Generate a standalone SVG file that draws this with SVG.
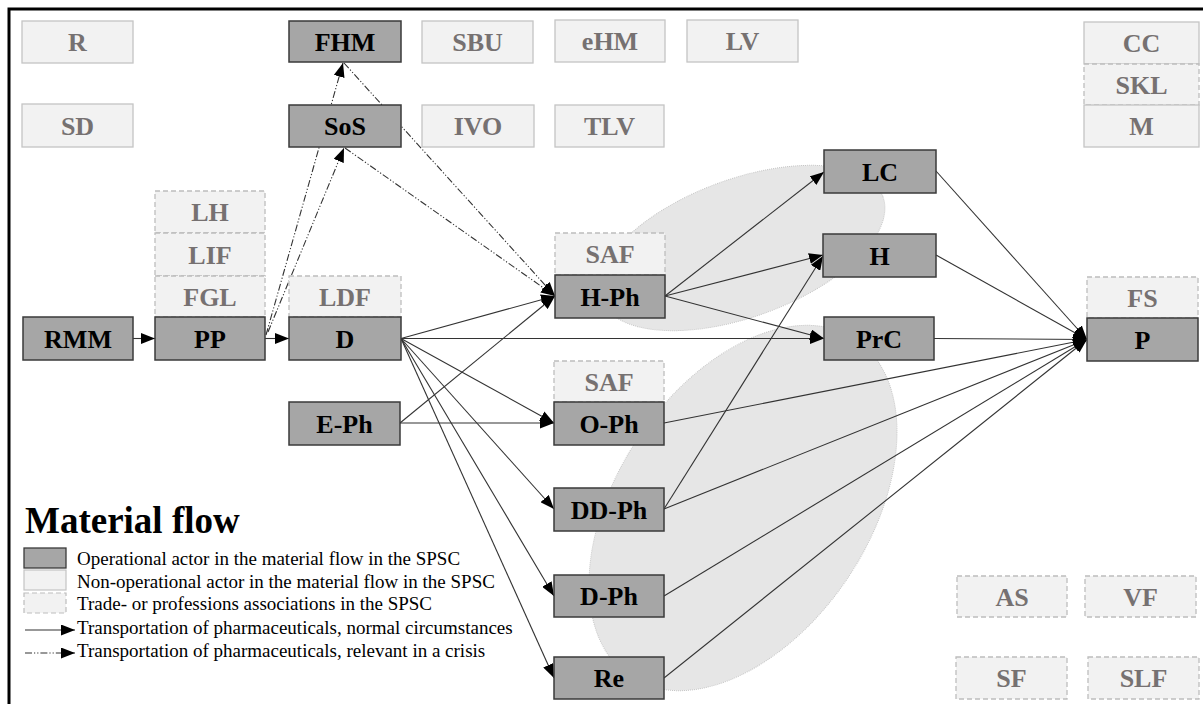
<svg xmlns="http://www.w3.org/2000/svg" width="1203" height="704" viewBox="0 0 1203 704">
  <defs>
    <marker id="arrow" markerUnits="userSpaceOnUse" markerWidth="14" markerHeight="11" refX="14" refY="5.5" orient="auto">
      <path d="M0,0 L14,5.5 L0,11 z" fill="#000"/>
    </marker>
    <style>
      .op rect { fill: #a6a6a6; stroke: #3a3a3a; stroke-width: 1.5; }
      .op text { fill: #000; }
      .nop rect { fill: #f2f2f2; stroke: #c4c4c4; stroke-width: 1.3; }
      .assoc rect { fill: #f2f2f2; stroke: #bdbdbd; stroke-width: 1.3; stroke-dasharray: 5 3; }
      .nop text, .assoc text { fill: #767171; }
      .flow line { stroke: #333; stroke-width: 1.1; fill: none; marker-end: url(#arrow); }
      .flow line.crisis { stroke-dasharray: 7 2 1.2 2 1.2 2; }
      .zone { fill: #e6e6e6; stroke: #c6c6c6; stroke-width: 1; stroke-dasharray: 1 1; }
      .legend text { font-family: "Liberation Serif", "Times New Roman", serif; font-size: 19px; fill: #000; }
    </style>
  </defs>

  <rect width="1203" height="704" fill="#fff"/>
  <!-- frame -->
  <rect x="9" y="9" width="1300" height="800" fill="none" stroke="#000" stroke-width="3"/>

  <!-- grouping zones -->
  <ellipse class="zone" cx="742" cy="248" rx="150" ry="69" transform="rotate(-20 742 248)"/>
  <ellipse class="zone" cx="743" cy="508" rx="203" ry="126" transform="rotate(-56.2 743 508)"/>

  <!-- connectors -->
  <g id="connectors" class="flow">
    <line x1="133" y1="338.5" x2="155" y2="338.5"/>
    <line x1="265" y1="338.5" x2="289" y2="338.5"/>
    <line class="crisis" x1="266" y1="335" x2="343" y2="63"/>
    <line class="crisis" x1="268" y1="332" x2="344" y2="148"/>
    <line class="crisis" x1="344" y1="63" x2="555" y2="296"/>
    <line class="crisis" x1="345" y1="148" x2="555" y2="296"/>
    <line x1="401" y1="338.5" x2="555" y2="296"/>
    <line x1="401" y1="338.5" x2="824" y2="338.5"/>
    <line x1="401" y1="338.5" x2="554" y2="423"/>
    <line x1="401" y1="338.5" x2="554" y2="509"/>
    <line x1="401" y1="338.5" x2="554" y2="596"/>
    <line x1="401" y1="338.5" x2="554" y2="678"/>
    <line x1="400" y1="423" x2="555" y2="296"/>
    <line x1="400" y1="423" x2="554" y2="423"/>
    <line x1="665" y1="296" x2="824" y2="172"/>
    <line x1="665" y1="296" x2="823" y2="255"/>
    <line x1="665" y1="296" x2="824" y2="338.5"/>
    <line x1="664" y1="509" x2="823" y2="256"/>
    <line x1="936" y1="171" x2="1087" y2="339.5"/>
    <line x1="936" y1="255" x2="1087" y2="339.5"/>
    <line x1="934" y1="338.5" x2="1087" y2="339.5"/>
    <line x1="664" y1="423" x2="1087" y2="339.5"/>
    <line x1="664" y1="509" x2="1087" y2="339.5"/>
    <line x1="664" y1="596" x2="1087" y2="339.5"/>
    <line x1="664" y1="678" x2="1087" y2="339.5"/>
  </g>

  <!-- all node labels share one text style -->
  <g id="nodes" font-family="Liberation Serif, Times New Roman, serif" font-weight="bold" font-size="26" text-anchor="middle">

  <!-- non-operational actors -->
  <g id="R" class="nop"><rect x="22" y="21" width="111" height="42"/><text x="77.5" y="51">R</text></g>
  <g id="SD" class="nop"><rect x="22" y="104" width="111" height="43"/><text x="77.5" y="134.5">SD</text></g>
  <g id="SBU" class="nop"><rect x="422" y="21" width="111" height="42"/><text x="477.5" y="51">SBU</text></g>
  <g id="eHM" class="nop"><rect x="555" y="20" width="110" height="42"/><text x="610" y="50">eHM</text></g>
  <g id="LV" class="nop"><rect x="687" y="20" width="111" height="42"/><text x="742.5" y="50">LV</text></g>
  <g id="IVO" class="nop"><rect x="422" y="105" width="112" height="42"/><text x="478" y="135">IVO</text></g>
  <g id="TLV" class="nop"><rect x="555" y="105" width="109" height="42"/><text x="609.5" y="135">TLV</text></g>
  <g id="CC" class="nop"><rect x="1084" y="22" width="115" height="42"/><text x="1141.5" y="52">CC</text></g>
  <g id="SKL" class="assoc"><rect x="1084" y="64" width="115" height="41"/><text x="1141.5" y="93.5">SKL</text></g>
  <g id="M" class="nop"><rect x="1084" y="105" width="115" height="42"/><text x="1141.5" y="135">M</text></g>

  <!-- trade and professions associations -->
  <g id="LH" class="assoc"><rect x="155" y="191" width="110" height="42"/><text x="210" y="221">LH</text></g>
  <g id="LIF" class="assoc"><rect x="155" y="233" width="110" height="43"/><text x="210" y="263.5">LIF</text></g>
  <g id="FGL" class="assoc"><rect x="155" y="276" width="110" height="41"/><text x="210" y="305.5">FGL</text></g>
  <g id="LDF" class="assoc"><rect x="289" y="276" width="112" height="41"/><text x="345" y="305.5">LDF</text></g>
  <g id="SAF-H" class="assoc"><rect x="555" y="233" width="110" height="42"/><text x="610" y="263">SAF</text></g>
  <g id="SAF-O" class="assoc"><rect x="554" y="361" width="110" height="41"/><text x="609" y="390.5">SAF</text></g>
  <g id="FS" class="assoc"><rect x="1087" y="277" width="111" height="41"/><text x="1142.5" y="306.5">FS</text></g>
  <g id="AS" class="assoc"><rect x="957" y="576" width="110" height="41"/><text x="1012" y="605.5">AS</text></g>
  <g id="VF" class="assoc"><rect x="1085" y="576" width="111" height="41"/><text x="1140.5" y="605.5">VF</text></g>
  <g id="SF" class="assoc"><rect x="956" y="657" width="111" height="42"/><text x="1011.5" y="687">SF</text></g>
  <g id="SLF" class="assoc"><rect x="1088" y="657" width="111" height="42"/><text x="1143.5" y="687">SLF</text></g>

  <!-- operational actors -->
  <g id="FHM" class="op"><rect x="289" y="21" width="112" height="41"/><text x="345" y="50.5">FHM</text></g>
  <g id="SoS" class="op"><rect x="289" y="105" width="112" height="42"/><text x="345" y="135">SoS</text></g>
  <g id="RMM" class="op"><rect x="23" y="317" width="110" height="43"/><text x="78" y="347.5">RMM</text></g>
  <g id="PP" class="op"><rect x="155" y="317" width="110" height="43"/><text x="210" y="347.5">PP</text></g>
  <g id="D" class="op"><rect x="289" y="317" width="112" height="43"/><text x="345" y="347.5">D</text></g>
  <g id="E-Ph" class="op"><rect x="289" y="402" width="111" height="43"/><text x="344.5" y="432.5">E-Ph</text></g>
  <g id="H-Ph" class="op"><rect x="555" y="275" width="110" height="43"/><text x="610" y="305.5">H-Ph</text></g>
  <g id="O-Ph" class="op"><rect x="554" y="402" width="110" height="43"/><text x="609" y="432.5">O-Ph</text></g>
  <g id="DD-Ph" class="op"><rect x="554" y="488" width="110" height="43"/><text x="609" y="518.5">DD-Ph</text></g>
  <g id="D-Ph" class="op"><rect x="554" y="575" width="110" height="42"/><text x="609" y="605">D-Ph</text></g>
  <g id="Re" class="op"><rect x="554" y="657" width="110" height="42"/><text x="609" y="687">Re</text></g>
  <g id="LC" class="op"><rect x="824" y="150" width="112" height="43"/><text x="880" y="180.5">LC</text></g>
  <g id="H" class="op"><rect x="823" y="234" width="113" height="43"/><text x="879.5" y="264.5">H</text></g>
  <g id="PrC" class="op"><rect x="824" y="317" width="110" height="43"/><text x="879" y="347.5">PrC</text></g>
  <g id="P" class="op"><rect x="1087" y="318" width="111" height="43"/><text x="1142.5" y="348.5">P</text></g>
  </g>

  <!-- legend -->
  <g id="legend" class="legend">
    <text x="25" y="533" style="font-size:37px;font-weight:bold">Material flow</text>
    <rect x="24" y="548" width="42" height="20" fill="#a6a6a6" stroke="#3a3a3a" stroke-width="1.3"/>
    <rect x="24" y="570" width="42" height="20" fill="#f2f2f2" stroke="#c4c4c4" stroke-width="1.2"/>
    <rect x="24" y="593" width="42" height="20" fill="#f2f2f2" stroke="#bdbdbd" stroke-width="1.2" stroke-dasharray="5 3"/>
    <g class="flow">
      <line x1="25" y1="630" x2="75" y2="630"/>
      <line class="crisis" x1="25" y1="653" x2="75" y2="653"/>
    </g>
    <text x="77" y="565">Operational actor in the material flow in the SPSC</text>
    <text x="77" y="588">Non-operational actor in the material flow in the SPSC</text>
    <text x="77" y="610">Trade- or professions associations in the SPSC</text>
    <text x="77" y="634">Transportation of pharmaceuticals, normal circumstances</text>
    <text x="77" y="657">Transportation of pharmaceuticals, relevant in a crisis</text>
  </g>
</svg>
